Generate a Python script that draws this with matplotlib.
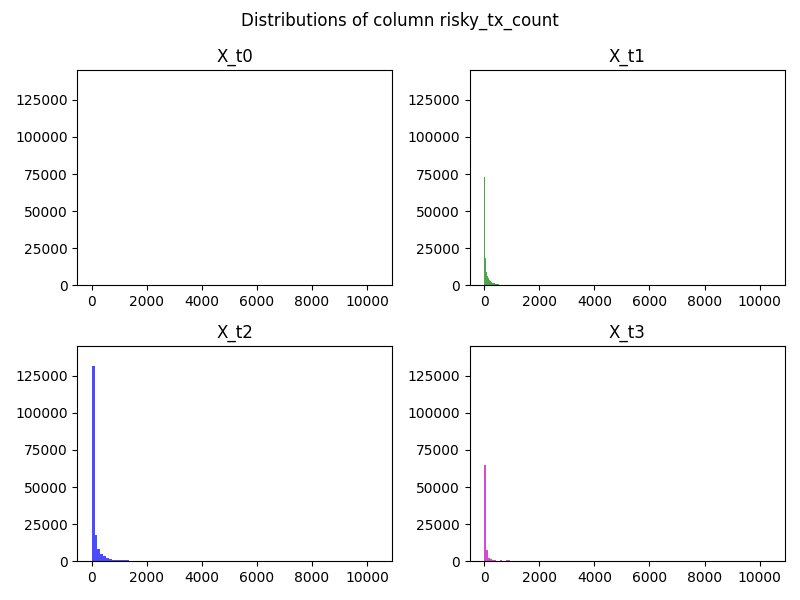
import numpy as np
import matplotlib
matplotlib.use("Agg")
import matplotlib.pyplot as plt

# Panel titles and colours
panel_titles = ["X_t0", "X_t1", "X_t2", "X_t3"]
panel_colors = ["r", "g", "b", "m"]

# Value range of each column (histogram of 100 bins over its own range)
t0_range = (-0.5, 0.5)
t1_range = (0.0, 3600.0)
t2_range = (0.0, 10400.0)
t3_range = (0.0, 7300.0)

# Counts of the leading (visible) bins per column; remaining bins ~0
t0_zero_count = 138000  # all values equal to 0
t1_counts = [73100, 18200, 9300, 6650, 5100, 3770, 2880, 2200, 1800, 1550,
             1300, 1100, 900, 750, 660, 600]
t2_counts = [131700, 17600, 8100, 4730, 3380, 2500, 1350, 680, 670, 660,
             650, 650, 640]
t3_counts = [64900, 7430, 2030, 1350, 900, 675, 450, 150, 675, 100,
             200, 700, 700]

N_BINS = 100


def bin_data(rng, counts):
    edges = np.linspace(rng[0], rng[1], N_BINS + 1)
    full = np.zeros(N_BINS)
    full[:len(counts)] = counts
    centers = 0.5 * (edges[:-1] + edges[1:])
    return centers, edges, full


fig, axes = plt.subplots(2, 2, figsize=(8, 6), dpi=100, sharex=True, sharey=True)
axes = axes.ravel()

# X_t0: single value 0
edges0 = np.linspace(t0_range[0], t0_range[1], N_BINS + 1)
axes[0].hist([0.0], bins=edges0, weights=[t0_zero_count],
             color=panel_colors[0], alpha=0.7)

for ax, rng, counts, col in zip(axes[1:], [t1_range, t2_range, t3_range],
                                [t1_counts, t2_counts, t3_counts],
                                panel_colors[1:]):
    c, e, w = bin_data(rng, counts)
    ax.hist(c, bins=e, weights=w, color=col, alpha=0.7)

for ax, t in zip(axes, panel_titles):
    ax.set_title(t)
    ax.tick_params(labelbottom=True, labelleft=True)

fig.suptitle("Distributions of column risky_tx_count")
fig.tight_layout()
fig.savefig("out.png", dpi=100)
